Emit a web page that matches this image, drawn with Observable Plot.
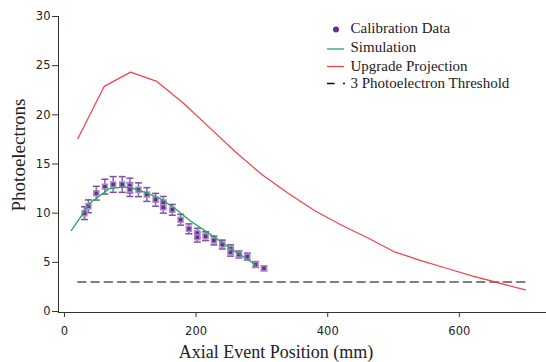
<!DOCTYPE html>
<html>
<head>
<meta charset="utf-8">
<script src="https://cdn.jsdelivr.net/npm/d3@7"></script>
<script src="https://cdn.jsdelivr.net/npm/@observablehq/plot@0.6"></script>
<style>
  html, body { margin: 0; padding: 0; background: #fff; }
  #chart { width: 546px; height: 362px; }
  svg { font-family: "DejaVu Sans", sans-serif; }
</style>
</head>
<body>
<div id="chart"></div>
<script>
// ---- data ----
const calX = [35, 41, 53, 66, 78.6, 92.3, 104, 104, 117, 129.7, 143, 154.7, 154.7, 168.4, 181, 193.6, 206.4, 206.4, 219, 231.6, 244.4, 257, 257, 269.7, 282.4, 295, 307.7];
const calY = [10.0, 10.7, 12.03, 12.7, 12.92, 12.92, 12.81, 12.4, 12.38, 11.9, 11.36, 11.1, 10.6, 10.34, 9.33, 8.41, 7.96, 7.56, 7.66, 7.22, 6.81, 6.38, 6.03, 5.8, 5.59, 4.78, 4.4];
const calErr = [0.65, 0.65, 0.7, 0.75, 0.8, 0.8, 0.75, 0.7, 0.7, 0.7, 0.65, 0.6, 0.6, 0.55, 0.55, 0.5, 0.5, 0.5, 0.45, 0.45, 0.45, 0.4, 0.4, 0.35, 0.35, 0.3, 0.25];

const simX = [15, 44, 73, 92, 105, 128, 151, 174, 196, 222, 240, 257, 276, 295];
const simY = [8.25, 11.05, 12.5, 12.65, 12.6, 12.1, 11.45, 10.4, 9.2, 8.05, 7.2, 6.4, 5.6, 4.75];

const upX = [25, 65, 105, 145, 185, 225, 265, 305, 345, 385, 425, 465, 505, 545, 585, 625, 665, 705];
const upY = [17.6, 22.9, 24.35, 23.4, 21.2, 18.7, 16.2, 13.9, 12.0, 10.25, 8.8, 7.5, 6.1, 5.2, 4.4, 3.6, 2.9, 2.2];

const thrX = [25, 705];
const thrY = 3;

const xTicks = [0, 200, 400, 600];
const yTicks = [0, 5, 10, 15, 20, 25, 30];

const legendItems = ["Calibration Data", "Simulation", "Upgrade Projection", "3 Photoelectron Threshold"];

// ---- tables ----
const cal = calX.map((x, i) => ({x, y: calY[i], e: calErr[i]}));
const sim = simX.map((x, i) => ({x, y: simY[i]}));
const up = upX.map((x, i) => ({x, y: upY[i]}));
const thr = thrX.map(x => ({x, y: thrY}));

const capSymbol = {
  draw(ctx) { ctx.moveTo(-3.5, 0); ctx.lineTo(3.5, 0); }
};

const purple = "#6a2c8f";
const purpleLight = "#a98bc8";
const purpleBar = "#7f4fa8";

const chart = Plot.plot({
  width: 546,
  height: 362,
  marginLeft: 58,
  marginRight: 0,
  marginTop: 16,
  marginBottom: 50,
  style: {background: "#fff", overflow: "visible"},
  x: {domain: [-4.5, 737], label: null},
  y: {domain: [-0.1, 30], label: null},
  marks: [
    Plot.axisX({ticks: xTicks, tickSize: 5, tickPadding: 9, dx: 3, fontSize: 11.5, label: null, stroke: "#333", color: "#222"}),
    Plot.axisY({ticks: yTicks, tickSize: 6, tickPadding: 2, fontSize: 11.5, label: null, stroke: "#333", color: "#222"}),
    Plot.ruleX([-4.5], {stroke: "#333", strokeWidth: 1}),
    Plot.ruleY([-0.1], {stroke: "#333", strokeWidth: 1}),
    Plot.line(thr, {x: "x", y: "y", stroke: "#7f7f7f", strokeWidth: 2, strokeDasharray: "7.7,5.6"}),
    Plot.line(up, {x: "x", y: "y", stroke: "#f0464a", strokeWidth: 1.3}),
    Plot.ruleX(cal, {x: "x", y1: d => d.y - d.e, y2: d => d.y + d.e, stroke: purpleBar, strokeWidth: 1.6, strokeOpacity: 0.85}),
    Plot.dot(cal, {x: "x", y: d => d.y - d.e, symbol: capSymbol, r: 3, stroke: purpleBar, strokeWidth: 1.5}),
    Plot.dot(cal, {x: "x", y: d => d.y + d.e, symbol: capSymbol, r: 3, stroke: purpleBar, strokeWidth: 1.5}),
    Plot.dot(cal, {x: "x", y: "y", symbol: "square", r: 2.8, fill: purple, stroke: purpleLight, strokeWidth: 1.5}),
    Plot.line(sim, {x: "x", y: "y", stroke: "#1fa85c", strokeWidth: 1.3})
  ]
});

document.getElementById("chart").appendChild(chart);

// ---- axis titles and legend ----
const svg = d3.select(chart);
const serif = "'Liberation Serif', 'Times New Roman', serif";

svg.append("text")
  .attr("x", 276).attr("y", 358)
  .attr("text-anchor", "middle")
  .attr("font-family", serif).attr("font-size", 18).attr("fill", "#222")
  .text("Axial Event Position (mm)");

svg.append("text")
  .attr("transform", "translate(25,155) rotate(-90)")
  .attr("text-anchor", "middle")
  .attr("font-family", serif).attr("font-size", 19).attr("fill", "#222")
  .text("Photoelectrons");

const lg = svg.append("g").attr("font-family", serif).attr("font-size", 15).attr("fill", "#222").attr("text-anchor", "start");
const baselines = [32.7, 52, 70.5, 87.5];
legendItems.forEach((t, i) => {
  lg.append("text").attr("x", 350.5).attr("y", baselines[i]).attr("text-anchor", "start").text(t);
});
lg.append("circle").attr("cx", 336).attr("cy", 29.5).attr("r", 3).attr("fill", purple);
lg.append("line").attr("x1", 327).attr("x2", 344).attr("y1", 49).attr("y2", 49)
  .attr("stroke", "#1fa85c").attr("stroke-width", 1.3);
lg.append("line").attr("x1", 327).attr("x2", 344).attr("y1", 66.5).attr("y2", 66.5)
  .attr("stroke", "#f0464a").attr("stroke-width", 1.3);
lg.append("line").attr("x1", 327).attr("x2", 345).attr("y1", 83.5).attr("y2", 83.5)
  .attr("stroke", "#111").attr("stroke-width", 1.3).attr("stroke-dasharray", "7.6,8.4");
</script>
</body>
</html>
